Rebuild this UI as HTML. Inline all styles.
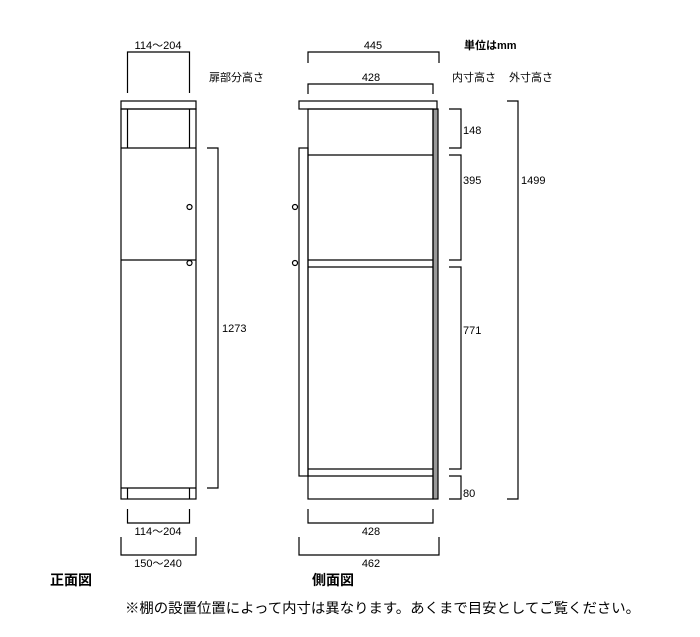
<!DOCTYPE html>
<html><head><meta charset="utf-8"><style>
body{margin:0;background:#fff}
svg{display:block}
text{font-family:"Liberation Sans","Noto Sans CJK JP",sans-serif;font-size:11px;fill:#000}
.b{font-weight:bold}
</style></head><body>
<svg width="700" height="637" viewBox="0 0 700 637" xmlns="http://www.w3.org/2000/svg">
<g fill="none" stroke="#000" stroke-width="1.2">
<rect x="121" y="101" width="75" height="8" fill="#fff"/>
<rect x="121" y="109" width="75" height="390"/>
<line x1="127.5" y1="109" x2="127.5" y2="148"/>
<line x1="189.5" y1="109" x2="189.5" y2="148"/>
<line x1="121" y1="148" x2="196" y2="148"/>
<line x1="121" y1="260" x2="196" y2="260"/>
<line x1="121" y1="488" x2="196" y2="488"/>
<line x1="127.5" y1="488" x2="127.5" y2="499"/>
<line x1="189.5" y1="488" x2="189.5" y2="499"/>
<circle cx="189.5" cy="207" r="2.5" fill="#fff"/>
<circle cx="189.5" cy="263" r="2.5" fill="#fff"/>
<polyline points="127.5,93 127.5,52 189.5,52 189.5,93"/>
<polyline points="207,148 218,148 218,488 207,488"/>
<polyline points="127.5,509 127.5,523 189.5,523 189.5,509"/>
<polyline points="121,537 121,555 196,555 196,537"/>
<rect x="433" y="109" width="5" height="390" fill="#999"/>
<rect x="299" y="101" width="138" height="8" fill="#fff"/>
<rect x="308" y="109" width="125" height="390"/>
<rect x="299" y="148" width="9" height="328"/>
<line x1="308" y1="155" x2="433" y2="155"/>
<line x1="308" y1="260" x2="433" y2="260"/>
<line x1="308" y1="267" x2="433" y2="267"/>
<line x1="308" y1="469" x2="433" y2="469"/>
<line x1="308" y1="476" x2="433" y2="476"/>
<circle cx="295" cy="207" r="2.5" fill="#fff"/>
<circle cx="295" cy="263" r="2.5" fill="#fff"/>
<polyline points="308,63 308,52 439,52 439,63"/>
<polyline points="308,94 308,84 433,84 433,94"/>
<polyline points="449,109 461,109 461,148 449,148"/>
<polyline points="449,155 461,155 461,260 449,260"/>
<polyline points="449,267 461,267 461,469 449,469"/>
<polyline points="449,476 461,476 461,499 449,499"/>
<polyline points="507,101 518,101 518,499 507,499"/>
<polyline points="308,509 308,523 433,523 433,509"/>
<polyline points="299,537 299,555 439,555 439,537"/>
</g>
<text x="158" y="49" text-anchor="middle">114～204</text>
<text x="209" y="81">扉部分高さ</text>
<text x="222" y="332">1273</text>
<text x="158" y="535" text-anchor="middle">114～204</text>
<text x="158" y="567" text-anchor="middle">150～240</text>
<text x="373" y="49" text-anchor="middle">445</text>
<text x="371" y="81" text-anchor="middle">428</text>
<text x="464" y="49" class="b">単位はmm</text>
<text x="452" y="81">内寸高さ</text>
<text x="509" y="81">外寸高さ</text>
<text x="463" y="134">148</text>
<text x="463" y="184">395</text>
<text x="463" y="334">771</text>
<text x="463" y="497">80</text>
<text x="521" y="184">1499</text>
<text x="371" y="535" text-anchor="middle">428</text>
<text x="371" y="567" text-anchor="middle">462</text>
<text x="50" y="585" class="b" style="font-size:14px">正面図</text>
<text x="312" y="585" class="b" style="font-size:14px">側面図</text>
<text x="125" y="613" style="font-size:14px" textLength="515" lengthAdjust="spacingAndGlyphs">※棚の設置位置によって内寸は異なります。あくまで目安としてご覧ください。</text>
</svg>
</body></html>
